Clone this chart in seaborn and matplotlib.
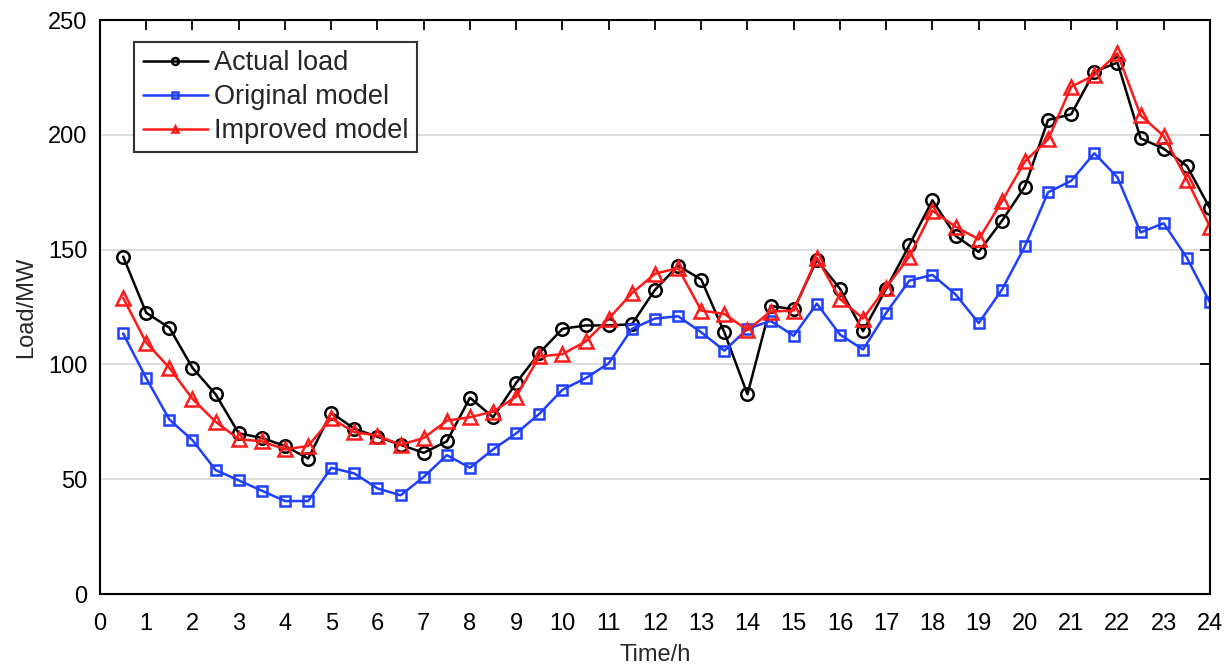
import numpy as np
import pandas as pd
import matplotlib
matplotlib.use("Agg")
import matplotlib.pyplot as plt
import seaborn as sns

hours = [0.5, 1, 1.5, 2, 2.5, 3, 3.5, 4, 4.5, 5, 5.5, 6, 6.5, 7, 7.5, 8,
         8.5, 9, 9.5, 10, 10.5, 11, 11.5, 12, 12.5, 13, 13.5, 14, 14.5, 15,
         15.5, 16, 16.5, 17, 17.5, 18, 18.5, 19, 19.5, 20, 20.5, 21, 21.5,
         22, 22.5, 23, 23.5, 24]

actual_load = [147, 122.5, 116, 98.5, 87, 70, 68, 64.5, 59, 79, 72, 68.5,
               65, 61.5, 66.5, 85.5, 77, 92, 105, 115.5, 117, 117, 117.5,
               132.5, 143, 137, 114, 87, 125.5, 124, 145.5, 133, 114.5, 133,
               152, 171.5, 156, 149, 162.5, 177.5, 206.5, 209, 227.5, 231.5,
               198.5, 194, 186.5, 168]

original_model = [113.5, 94, 76, 67, 54, 49.5, 45, 40.5, 40.5, 55, 52.5, 46,
                  43, 51, 60.5, 55, 63, 70, 78.5, 89, 94, 100.5, 115.5, 120,
                  121, 114, 106, 115.5, 119, 112.5, 126.5, 113, 106.5, 122.5,
                  136.5, 139, 130.5, 118, 132.5, 151.5, 175, 180, 192, 181.5,
                  157.5, 161.5, 146.5, 127]

improved_model = [129, 109.5, 98.5, 85, 75, 67.5, 66.5, 63, 64.5, 76.5, 70.5,
                  69, 65, 68, 75.5, 77, 79.5, 86, 103.5, 104.5, 110, 120, 131,
                  139.5, 142, 123.5, 122, 115, 123, 123.5, 146.5, 128.5, 120,
                  133.5, 147, 167, 160, 154.5, 171, 188.5, 198, 221, 226,
                  235.5, 208.5, 199.5, 180.5, 160]

series_names = ["Actual load", "Original model", "Improved model"]
x_ticks = list(range(0, 25))
y_ticks = [0, 50, 100, 150, 200, 250]

sns.set_theme(style="white")
plt.rcParams['font.family'] = ['Liberation Sans', 'DejaVu Sans']

df = pd.DataFrame({"hour": hours, series_names[0]: actual_load,
                   series_names[1]: original_model, series_names[2]: improved_model})

fig = plt.figure(figsize=(12.3, 6.7), dpi=100)
ax = fig.add_axes([0.0813, 0.1134, 0.9024, 0.8566])

styles = [
    dict(color="#000000", marker="o", markersize=9, mfc="none", mew=1.8),
    dict(color="#1f3fff", marker="s", markersize=6.5, mfc="none", mew=1.8),
    dict(color="#ff1a1a", marker="^", markersize=10, mfc="none", mew=1.8),
]
for name, st in zip(series_names, styles):
    sns.lineplot(data=df, x="hour", y=name, ax=ax, label=name, linewidth=1.8,
                 color=st["color"], marker=st["marker"], markersize=st["markersize"],
                 markerfacecolor=st["mfc"], markeredgecolor=st["color"],
                 markeredgewidth=st["mew"])

ax.set_xlim(0, 24)
ax.set_ylim(0, 250)
ax.set_xticks(x_ticks)
ax.set_yticks(y_ticks)
ax.yaxis.grid(True, color="#dddddd", linewidth=1.5)
ax.xaxis.grid(False)
ax.tick_params(direction="in", length=7, width=1.3, top=True, right=True,
               labelsize=17, colors="black")
ax.tick_params(axis="x", pad=14)
ax.tick_params(axis="y", pad=9)
for s in ax.spines.values():
    s.set_color("black")
    s.set_linewidth(1.5)
ax.set_xlabel("Time/h", fontsize=17, labelpad=6)
ax.set_ylabel("Load/MW", fontsize=17, labelpad=8)

leg = ax.legend(loc="upper left", bbox_to_anchor=(0.031, 0.962), fontsize=19.5,
                frameon=True, fancybox=False, edgecolor="black",
                handlelength=2.4, handletextpad=0.25, borderpad=0.3,
                labelspacing=0.3, borderaxespad=0.0)
leg.get_frame().set_linewidth(1.5)
for h in leg.legend_handles:
    h.set_markersize(5)

fig.savefig("out.png", dpi=100)
